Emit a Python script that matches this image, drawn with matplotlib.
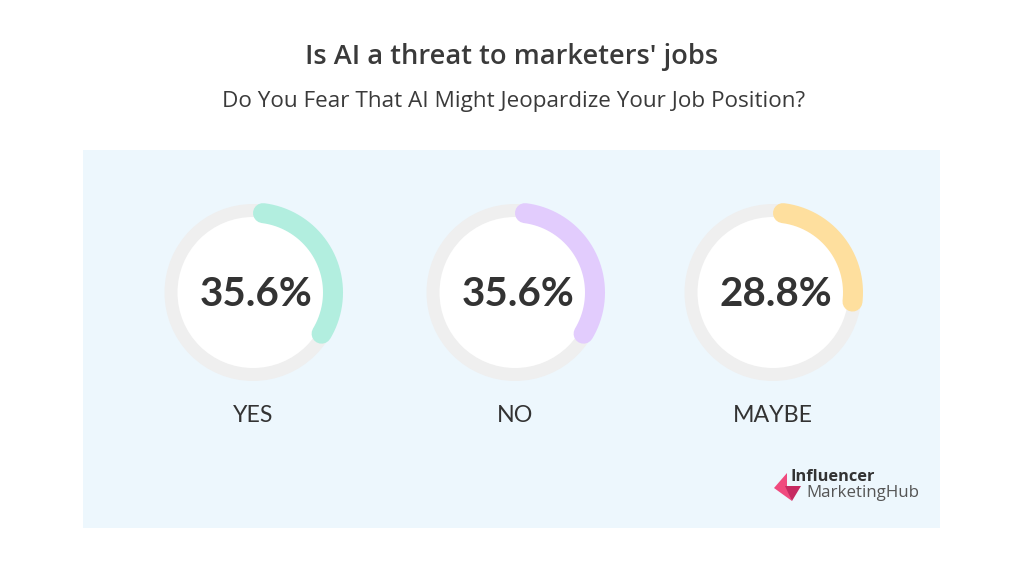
import numpy as np
import matplotlib
matplotlib.use("Agg")
import matplotlib.pyplot as plt
from matplotlib.patches import Rectangle, Polygon, Circle

# Survey answers
categories = ["YES", "NO", "MAYBE"]
shares = [35.6, 35.6, 28.8]
value_labels = ["35.6%", "35.6%", "28.8%"]
arc_colors = ["#B2EEDF", "#E2CCFD", "#FEDF9E"]

title = "Is AI a threat to marketers' jobs"
subtitle = "Do You Fear That AI Might Jeopardize Your Job Position?"

W, H = 1024, 583
fig = plt.figure(figsize=(W / 100, H / 100), dpi=100)
fig.patch.set_facecolor("white")
ax = fig.add_axes([0, 0, 1, 1])
ax.set_xlim(0, W)
ax.set_ylim(H, 0)
ax.set_aspect("equal")
ax.axis("off")

TEXT = "#333333"

# Header
ax.text(512, 57, title, ha="center", va="center", fontsize=19.6,
        fontweight="semibold", color="#3a3a3a", family="Open Sans")
ax.text(514, 101, subtitle, ha="center", va="center", fontsize=16.2,
        color="#3a3a3a", family="Open Sans")

# Light panel
ax.add_patch(Rectangle((83, 150), 857, 378, facecolor="#EDF7FD",
                       edgecolor="none", zorder=0))

centers_x = [253, 515, 773]
cy = 292.5
ring_r = 82
arc_r = 80
px = 0.72  # points per pixel at 100 dpi
cap_px = 10  # half the arc stroke width

for cx, val, lab, txt, col in zip(centers_x, shares, categories,
                                  value_labels, arc_colors):
    # white face and grey track
    ax.add_patch(Circle((cx, cy), ring_r, facecolor="white",
                        edgecolor="#EFEFEF", linewidth=13 * px, zorder=1))
    # progress arc, clockwise from 12 o'clock, round caps kept inside the span
    cap_deg = np.degrees(cap_px / arc_r)
    span = val / 100 * 360
    th = np.radians(np.linspace(90 - cap_deg, 90 - span + cap_deg, 200))
    ax.plot(cx + arc_r * np.cos(th), cy - arc_r * np.sin(th), color=col,
            linewidth=20 * px, solid_capstyle="round", zorder=2)
    ax.text(cx + 3, cy + 2, txt, ha="center", va="center", fontsize=29,
            fontweight="bold", color=TEXT, family="Lato", zorder=3)
    ax.text(cx, 416, lab, ha="center", va="center", fontsize=16.7,
            color=TEXT, family="Lato")

# Brand mark
ax.add_patch(Polygon([(774, 488), (787, 473), (787, 486), (792, 501)],
                     closed=True, facecolor="#F04A7E", edgecolor="none",
                     zorder=2))
ax.add_patch(Polygon([(785, 486), (801, 486), (792, 501)], closed=True,
                     facecolor="#C62A61", edgecolor="none", zorder=2))
ax.text(790, 477, "Influencer", ha="left", va="center", fontsize=11.8,
        fontweight="bold", color="#333333", family="Open Sans")
ax.text(806, 493, "MarketingHub", ha="left", va="center", fontsize=12.2,
        color="#555555", family="Open Sans")

fig.savefig("out.png", dpi=100, facecolor=fig.get_facecolor())
